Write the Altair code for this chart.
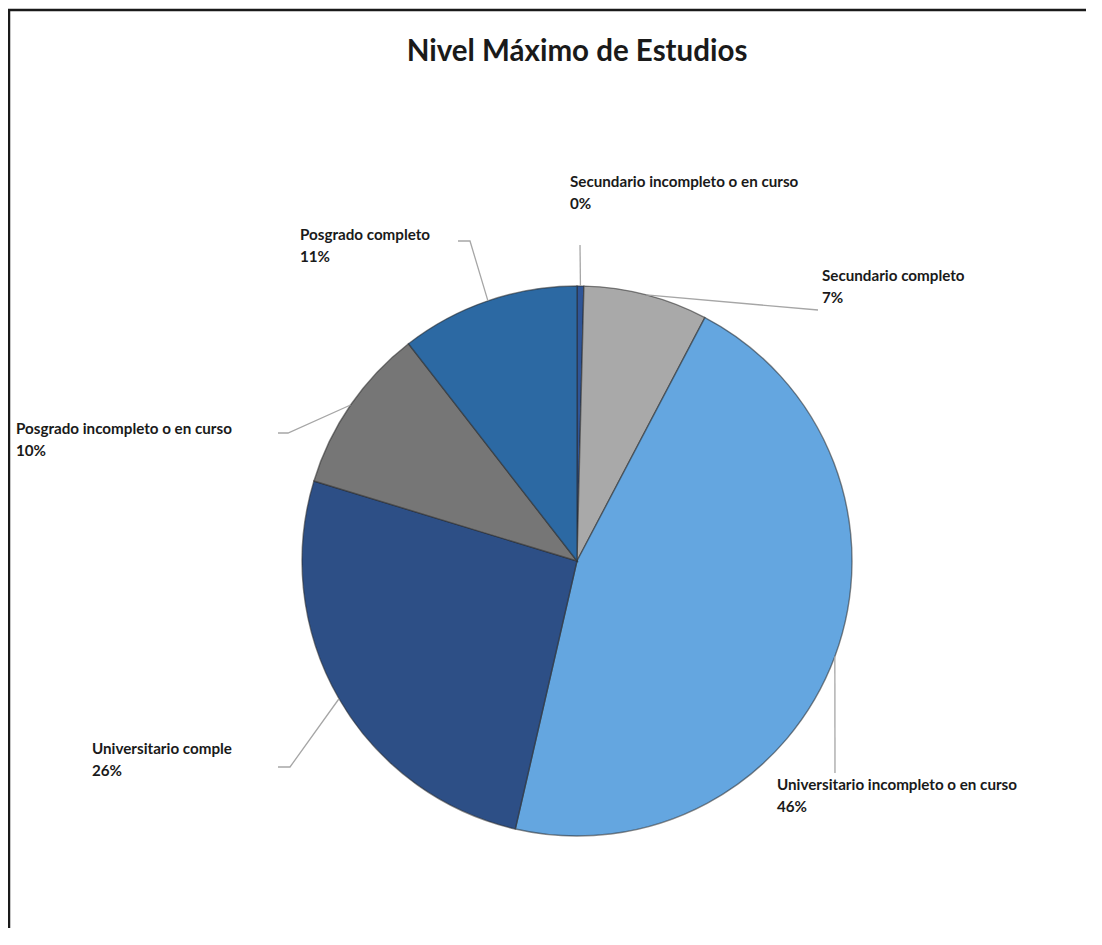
import math
import altair as alt
import pandas as pd

# ---- data ----
categories = [
    "Secundario incompleto o en curso",
    "Secundario completo",
    "Universitario incompleto o en curso",
    "Universitario completo",
    "Posgrado incompleto o en curso",
    "Posgrado completo",
]
values = [0.4, 7.3, 45.9, 26.1, 9.8, 10.5]
label_names = [
    "Secundario incompleto o en curso",
    "Secundario completo",
    "Universitario incompleto o en curso",
    "Universitario comple",
    "Posgrado incompleto o en curso",
    "Posgrado completo",
]
pct_labels = ["0%", "7%", "46%", "26%", "10%", "11%"]
title_text = "Nivel Máximo de Estudios"

# ---- styles / layout ----
colors = ["#2F5597", "#A9A9A9", "#64A6E0", "#2D4F86", "#767676", "#2C69A3"]
W, H = 1078, 920
OX, OY = 8, 8  # page margin
CX, CY, R = 577 - OX, 561 - OY, 275
label_pos = [(570, 175), (822, 269), (777, 778), (92, 742), (16, 422), (300, 228)]
elbows = [(580, 245), (818, 310), (835, 773), (290, 767), (288, 433), (470, 241)]
ends = [(580, 245), (818, 310), (835, 773), (278, 767), (278, 433), (458, 241)]

df = pd.DataFrame({"cat": categories, "value": values, "idx": list(range(len(values)))})

total = sum(values)
rows = []
cum = 0.0
for i, (c, v) in enumerate(zip(categories, values)):
    mid = (cum + v / 2) / total * 2 * math.pi
    cum += v
    sx = CX + R * math.sin(mid)
    sy = CY - R * math.cos(mid)
    pts = [(sx, sy), (elbows[i][0] - OX, elbows[i][1] - OY), (ends[i][0] - OX, ends[i][1] - OY)]
    for k, (px, py) in enumerate(pts):
        rows.append({"cat": c, "ord": k, "px": px, "py": py})
df_lines = pd.DataFrame(rows)

df_labels = pd.DataFrame({
    "cat": categories,
    "txt": [f"{n}\n{p}" for n, p in zip(label_names, pct_labels)],
    "px": [p[0] - OX for p in label_pos],
    "py": [p[1] - OY for p in label_pos],
})

xs = alt.Scale(domain=[0, W], range=[0, W], nice=False, zero=False)
ys = alt.Scale(domain=[0, H], range=[0, H], nice=False, zero=False)

pie = alt.Chart(df).mark_arc(radius=R, stroke="#2a2a2a", strokeWidth=1.4, strokeOpacity=0.55).encode(
    theta=alt.Theta("value:Q", stack=True),
    order=alt.Order("idx:Q"),
    color=alt.Color("cat:N", scale=alt.Scale(domain=categories, range=colors), legend=None),
    x=alt.value(CX),
    y=alt.value(CY),
)

lines = alt.Chart(df_lines).mark_line(color="#A6A6A6", strokeWidth=1.3).encode(
    x=alt.X("px:Q", scale=xs, axis=None),
    y=alt.Y("py:Q", scale=ys, axis=None),
    detail="cat:N",
    order="ord:Q",
)

labels = alt.Chart(df_labels).mark_text(
    align="left", baseline="top", font="Lato", fontWeight="bold", fontSize=15.2,
    lineBreak="\n", lineHeight=22, color="#1A1A1A",
).encode(
    x=alt.X("px:Q", scale=xs, axis=None),
    y=alt.Y("py:Q", scale=ys, axis=None),
    text="txt:N",
)

one = pd.DataFrame({"a": [0]})
title = alt.Chart(one).mark_text(
    text=title_text, font="Lato", fontWeight="bold", fontSize=29.5, color="#1A1A1A",
    align="center", baseline="middle",
).encode(x=alt.value(577 - OX), y=alt.value(52 - OY))

frame_left = alt.Chart(one).mark_rule(color="#1a1a1a", strokeWidth=2.5).encode(
    x=alt.value(9 - OX), y=alt.value(9 - OY), y2=alt.value(H)
)
frame_top = alt.Chart(one).mark_rule(color="#1a1a1a", strokeWidth=2.5).encode(
    x=alt.value(8 - OX), x2=alt.value(W), y=alt.value(10 - OY)
)

chart = alt.layer(frame_left, frame_top, pie, lines, labels, title).properties(
    width=W, height=H, padding=0, autosize=alt.AutoSizeParams(type="none"), background="white"
).configure_view(stroke="transparent", strokeWidth=0)

chart.save("out.html", embed_options={"renderer": "svg", "actions": False})
